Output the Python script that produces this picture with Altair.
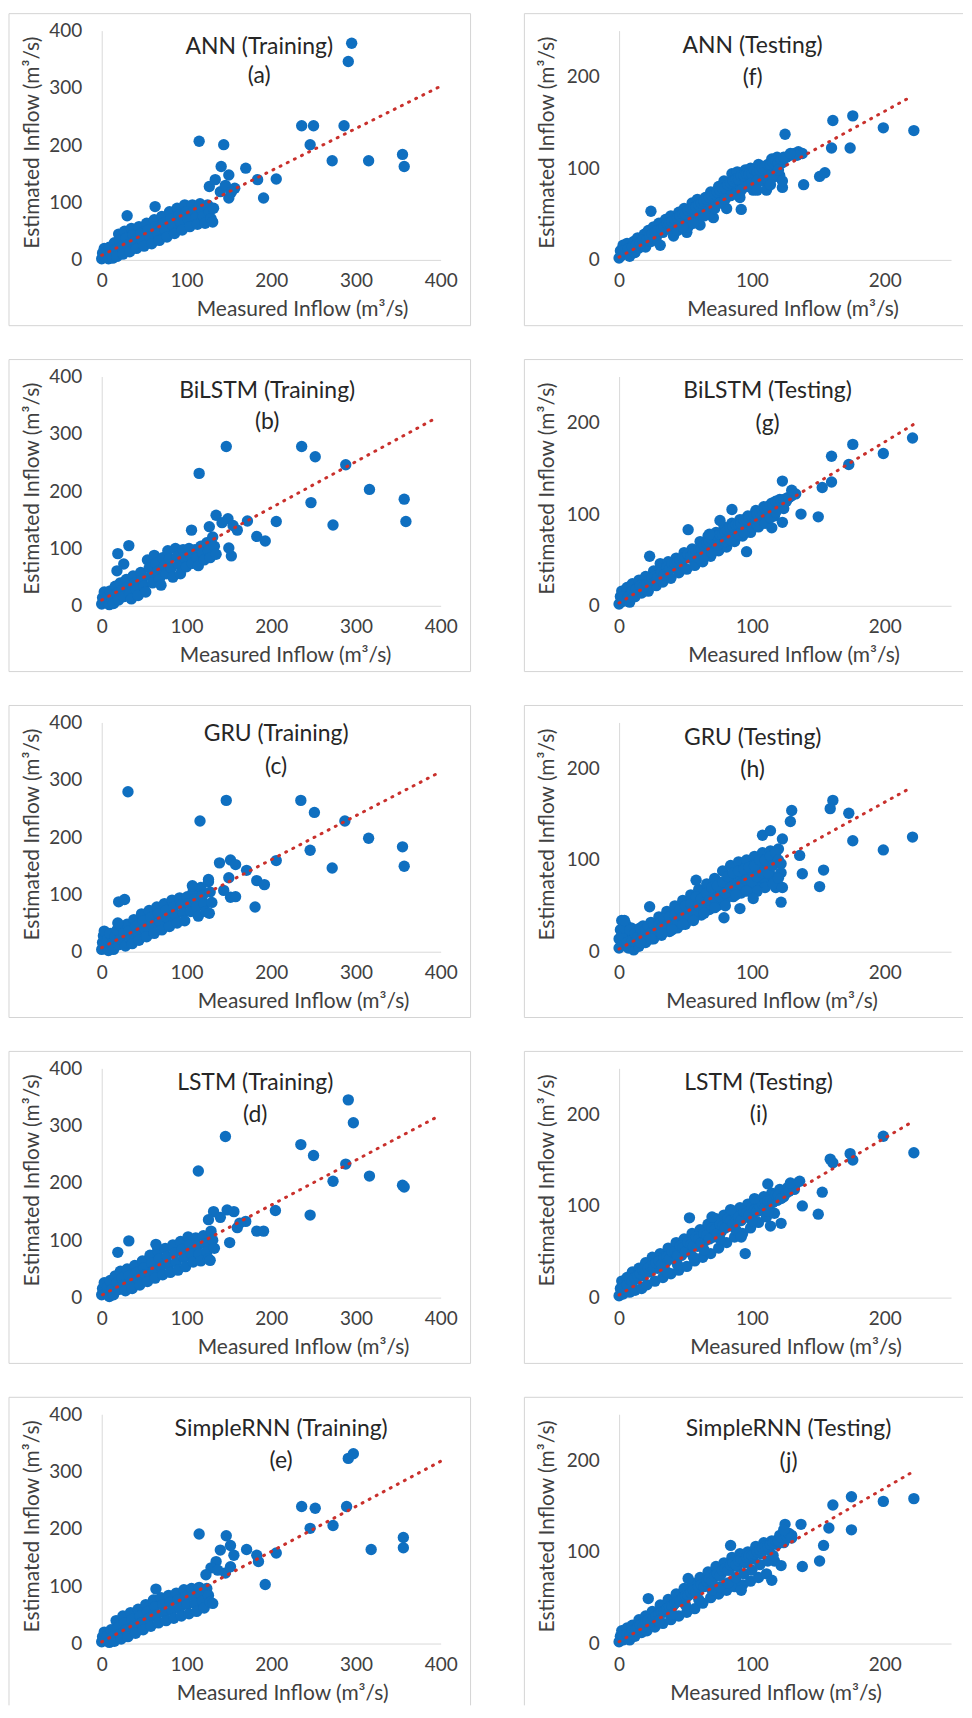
import altair as alt
import pandas as pd

# ---------------- data ----------------
ann_train = [
    [0,2],[1,12],[3,20],[4,6],[6,14],[8,2],[9,22],[11,10],[13,3],[15,30],[16,18],[18,6],[20,45],[21,34],[23,22],[25,10],
    [27,50],[29,38],[31,26],[33,14],[35,55],[37,44],[39,32],[41,20],[44,58],[46,46],[48,34],[50,24],[53,64],[55,52],[57,40],
    [59,28],[62,70],[64,58],[66,46],[68,34],[71,76],[73,64],[75,52],[77,40],[80,84],[82,72],[84,60],[86,46],[89,90],[91,78],
    [93,66],[95,52],[98,96],[100,84],[102,72],[104,58],[107,96],[109,86],[111,74],[113,62],[116,98],[118,88],[120,76],[122,64],
    [125,96],[127,84],[129,72],[131,66],[132,90],
    [295,378],[291,346],[236,234],[250,234],[286,234],[246,201],[272,173],[315,173],[355,184],[357,163],[115,207],[144,201],
    [141,163],[150,148],[170,160],[184,140],[206,141],[191,108],[150,108],[157,125],[127,128],[134,140],[140,119],[30,77],
    [63,93],[146,130],[153,118]]

bilstm_train = [
    [0,3],[1,14],[3,24],[5,6],[7,16],[9,2],[10,26],[12,12],[14,4],[16,34],[18,22],[20,10],[22,40],[24,28],[26,16],[29,46],
    [31,34],[33,22],[35,12],[37,52],[39,40],[41,28],[43,18],[46,58],[48,46],[50,34],[52,24],[54,80],[56,66],[58,52],[60,40],
    [62,88],[64,74],[66,60],[68,46],[70,36],[72,84],[74,70],[76,56],[78,96],[80,82],[82,66],[84,50],[87,100],[89,86],[91,72],
    [93,56],[96,98],[98,84],[100,68],[103,100],[105,88],[107,74],[110,98],[112,84],[114,70],[117,104],[119,92],[121,80],
    [124,110],[126,96],[128,84],[131,120],[133,104],[135,90],
    [147,278],[236,278],[252,260],[288,246],[115,231],[316,203],[357,186],[359,147],[247,180],[273,141],[206,147],[172,148],
    [183,121],[193,113],[153,87],[150,101],[135,158],[149,152],[160,132],[106,132],[127,138],[32,105],[19,91],[26,73],[18,61],
    [142,145],[155,140]]

gru_train = [
    [0,4],[1,16],[2,28],[3,36],[5,10],[7,22],[8,2],[10,32],[12,14],[14,4],[16,26],[18,38],[20,12],[22,22],[24,44],[26,32],
    [28,10],[30,48],[32,36],[34,22],[36,14],[38,56],[40,44],[42,30],[44,20],[47,66],[49,54],[51,40],[53,26],[56,72],[58,60],
    [60,46],[62,32],[65,78],[67,66],[69,52],[71,38],[74,84],[76,72],[78,58],[80,44],[83,90],[85,78],[87,64],[89,50],[92,94],
    [94,82],[96,68],[98,54],[101,96],[103,84],[105,70],[108,106],[110,92],[112,78],[114,62],[117,112],[119,98],[121,84],
    [123,70],[126,122],[128,104],[130,86],
    [31,279],[147,264],[235,264],[251,243],[287,228],[116,228],[315,198],[355,183],[357,149],[246,177],[272,146],[206,159],
    [171,142],[183,124],[192,117],[181,78],[150,129],[152,95],[158,96],[139,155],[152,160],[158,152],[126,126],[107,115],
    [20,87],[27,91],[19,50],[144,107],[127,67]]

lstm_train = [
    [0,5],[1,16],[3,26],[5,8],[7,18],[9,2],[10,30],[12,14],[14,5],[16,38],[18,26],[20,14],[22,46],[24,34],[26,22],[28,12],
    [30,50],[32,38],[34,26],[36,16],[39,56],[41,44],[43,32],[45,22],[48,64],[50,52],[52,40],[54,28],[57,74],[59,60],[61,46],
    [63,34],[66,82],[68,68],[70,54],[72,40],[75,86],[77,72],[79,58],[81,44],[84,92],[86,78],[88,62],[90,48],[93,98],[95,84],
    [97,70],[99,54],[102,106],[104,92],[106,76],[108,62],[111,104],[113,90],[115,76],[117,64],[120,108],[122,94],[124,80],
    [126,68],[129,116],[131,100],[133,86],
    [291,345],[297,305],[146,281],[235,267],[250,248],[114,221],[288,233],[273,203],[316,212],[355,196],[357,193],[246,144],
    [205,152],[170,133],[183,116],[191,116],[160,122],[151,96],[132,150],[148,153],[156,150],[126,136],[32,99],[19,79],
    [64,93],[128,65],[140,140],[163,130]]

simplernn_train = [
    [0,3],[1,12],[3,20],[5,6],[7,14],[9,2],[11,24],[13,12],[15,4],[17,40],[19,28],[21,16],[23,8],[25,48],[27,36],[29,24],
    [31,12],[34,54],[36,42],[38,30],[40,18],[43,60],[45,48],[47,36],[49,24],[52,68],[54,56],[56,44],[58,30],[61,76],[63,64],
    [65,50],[67,36],[70,80],[72,68],[74,54],[76,40],[79,84],[81,72],[83,58],[85,44],[88,88],[90,76],[92,62],[94,48],[97,94],
    [99,82],[101,68],[103,52],[106,96],[108,84],[110,70],[112,56],[115,98],[117,86],[119,74],[121,62],[124,96],[126,84],
    [128,72],
    [291,323],[297,331],[236,239],[252,236],[289,239],[246,201],[273,206],[318,164],[356,185],[356,167],[206,158],[171,164],
    [183,154],[185,143],[193,103],[115,191],[147,188],[140,163],[152,171],[156,154],[135,143],[129,132],[146,123],[152,134],
    [131,70],[64,95],[123,120],[137,128]]

ann_test = [
    [0,2],[1,10],[2,5],[3,16],[5,8],[6,18],[8,4],[9,14],[11,20],[12,8],[14,24],[15,13],[17,20],[19,28],[20,14],[22,32],
    [24,20],[26,36],[28,24],[30,40],[31,16],[33,30],[35,44],[37,34],[39,48],[41,26],[43,40],[45,52],[47,42],[49,56],[51,30],
    [53,46],[55,62],[57,50],[59,66],[61,38],[63,56],[65,68],[67,58],[69,74],[71,46],[73,64],[75,80],[77,68],[79,86],[81,56],
    [83,74],[85,94],[87,82],[89,96],[91,68],[93,84],[95,98],[97,88],[99,100],[101,76],[103,90],[105,104],[107,94],[109,100],
    [111,76],[113,96],[115,110],[117,102],[119,112],[121,92],[123,106],[126,112],[129,114],[132,116],[135,118],[138,116],
    [3,10],[7,12],[10,14],[13,16],[16,18],[18,22],[21,22],[23,26],[25,28],[27,30],[29,32],[32,34],[34,36],[36,40],[38,40],
    [40,42],[42,44],[44,46],[46,48],[48,50],[50,50],[52,54],[54,56],[56,56],[58,58],[60,60],[62,62],[64,64],[66,66],[68,68],
    [70,70],[72,72],[74,74],[76,76],[78,78],[80,78],[82,82],[84,84],[86,86],[88,88],[90,88],[92,92],[94,92],[96,94],[98,94],
    [100,94],[102,98],[104,96],[106,98],[108,100],[110,102],[112,104],[114,104],[116,106],[118,108],[120,106],[122,110],
    [124,112],[96,80],[100,84],[104,86],[108,86],[112,86],[116,90],[120,98],[104,76],[114,82],[84,70],[88,72],[92,76],
    [76,62],[80,66],[68,50],[72,56],[60,44],[64,48],[52,36],[56,40],[44,32],[48,36],
    [176,157],[161,152],[199,144],[222,141],[125,137],[160,122],[174,122],[151,91],[155,95],[139,82],[123,79],[123,86],
    [92,55],[24,53],[134,114],[129,116]]

bilstm_test = [
    [0,2],[1,10],[2,16],[3,5],[5,12],[6,20],[8,4],[9,16],[10,24],[12,10],[14,20],[15,28],[17,14],[19,24],[20,32],[22,16],
    [24,28],[26,38],[28,22],[30,34],[31,46],[33,26],[35,38],[37,48],[39,30],[41,42],[43,52],[45,36],[47,46],[49,58],[51,40],
    [53,52],[55,62],[57,44],[59,56],[61,70],[63,48],[65,62],[67,76],[69,54],[71,68],[73,80],[75,60],[77,72],[79,86],[81,64],
    [83,78],[85,90],[87,70],[89,84],[91,94],[93,76],[95,88],[97,98],[99,80],[101,92],[103,104],[105,86],[107,98],[109,108],
    [111,92],[113,104],[115,112],[117,98],[119,110],[121,116],[124,106],[127,118],[130,120],[133,122],
    [3,10],[7,10],[10,16],[13,18],[16,22],[18,20],[21,24],[23,28],[25,30],[27,32],[29,30],[32,36],[34,34],[36,42],[38,40],
    [40,46],[42,46],[44,48],[46,50],[48,52],[50,52],[52,56],[54,54],[56,58],[58,60],[60,62],[62,62],[64,66],[66,68],[68,70],
    [70,72],[72,74],[74,76],[76,78],[78,78],[80,80],[82,82],[84,84],[86,86],[88,88],[90,88],[92,90],[94,94],[96,94],[98,96],
    [100,98],[102,98],[104,100],[106,102],[108,104],[110,106],[112,108],[114,110],[116,110],[118,114],[120,114],[122,114],
    [124,116],[126,114],[128,118],[60,52],[64,54],[70,58],[74,66],[80,70],[84,72],[90,78],[94,80],[100,86],[104,88],
    [110,90],[114,96],[118,102],
    [221,183],[176,176],[199,166],[160,163],[173,154],[153,129],[160,135],[123,136],[137,100],[150,97],[85,105],[52,83],
    [23,54],[96,59],[130,126],[123,91],[115,85],[76,93],[68,78]]

gru_test = [
    [0,4],[0,14],[1,24],[2,34],[3,8],[4,20],[5,30],[7,4],[8,16],[9,26],[11,2],[12,12],[13,24],[15,6],[16,18],[18,28],
    [20,10],[22,22],[24,32],[26,14],[28,26],[30,38],[32,18],[34,30],[36,44],[38,22],[40,36],[42,50],[44,26],[46,40],[48,56],
    [50,30],[52,46],[54,62],[56,36],[58,52],[60,68],[62,40],[64,58],[66,74],[68,46],[70,62],[72,80],[74,50],[76,68],[78,88],
    [80,56],[82,74],[84,94],[86,60],[88,80],[90,98],[92,64],[94,84],[96,100],[98,68],[100,88],[102,104],[104,72],[106,92],
    [108,108],[110,78],[112,96],[114,110],[116,82],[118,100],[120,112],[122,86],[118,70],
    [2,18],[4,26],[6,10],[8,24],[10,12],[12,20],[14,16],[16,26],[18,16],[20,24],[22,28],[24,20],[26,30],[28,20],[30,30],
    [32,26],[34,36],[36,28],[38,38],[40,28],[42,40],[44,34],[46,46],[48,38],[50,50],[52,36],[54,52],[56,44],[58,60],[60,50],
    [62,58],[64,48],[66,64],[68,56],[70,70],[72,58],[74,72],[76,60],[78,76],[80,64],[82,82],[84,70],[86,86],[88,70],[90,88],
    [92,74],[94,90],[96,78],[98,92],[100,76],[102,94],[104,82],[106,100],[108,86],[110,100],[112,86],[114,104],[116,94],
    [118,108],[120,100],[122,96],[110,70],[116,74],[120,80],[104,66],[96,66],[88,62],[80,50],[72,48],[64,42],[56,34],
    [48,30],[40,24],[32,20],[24,14],[16,10],
    [161,165],[159,156],[130,154],[129,142],[173,151],[176,121],[199,111],[221,125],[136,105],[138,85],[154,89],[151,71],
    [122,54],[123,70],[91,47],[79,37],[101,58],[58,78],[23,49],[108,127],[114,132],[123,123],[4,34]]

lstm_test = [
    [0,2],[1,10],[2,18],[3,4],[5,12],[6,22],[8,6],[9,16],[10,28],[12,8],[13,20],[15,32],[17,10],[18,24],[20,38],[21,14],
    [23,28],[25,44],[27,18],[29,32],[31,48],[33,22],[35,38],[37,54],[39,26],[41,42],[43,60],[45,30],[47,46],[49,64],[51,34],
    [53,52],[55,70],[57,40],[59,56],[61,74],[63,44],[65,62],[67,80],[69,48],[71,66],[73,86],[75,54],[77,72],[79,90],[81,60],
    [83,78],[85,94],[87,66],[89,84],[91,98],[93,70],[95,88],[97,102],[99,76],[101,92],[103,106],[105,82],[107,96],[109,110],
    [111,88],[113,100],[115,114],[117,92],[119,106],[121,118],[124,110],[127,120],[130,122],[133,124],
    [3,10],[6,14],[8,20],[10,18],[12,22],[14,24],[16,26],[18,30],[20,28],[22,32],[24,34],[26,32],[28,38],[30,40],[32,36],
    [34,44],[36,44],[38,42],[40,50],[42,50],[44,46],[46,56],[48,54],[50,50],[52,60],[54,58],[56,56],[58,66],[60,64],[62,60],
    [64,70],[66,68],[68,64],[70,76],[72,74],[74,70],[76,80],[78,78],[80,76],[82,86],[84,84],[86,80],[88,90],[90,88],[92,84],
    [94,94],[96,92],[98,90],[100,98],[102,96],[104,94],[106,100],[108,102],[110,98],[112,106],[114,106],[116,104],[118,112],
    [120,112],[122,108],[126,114],[128,116],[132,118],[64,52],[76,64],[88,74],[100,84],[112,94],[56,44],[44,36],[36,28],
    [199,176],[222,158],[159,151],[161,147],[174,157],[176,150],[153,115],[150,91],[138,100],[112,124],[129,125],[136,127],
    [84,96],[53,87],[95,48],[122,81],[114,78],[92,66],[102,108],[70,88]]

simplernn_test = [
    [0,2],[1,8],[2,14],[3,4],[5,10],[6,17],[8,4],[9,13],[10,20],[12,8],[13,17],[15,26],[17,12],[18,22],[20,30],[21,14],
    [23,26],[25,35],[27,18],[29,30],[31,42],[33,22],[35,36],[37,48],[39,26],[41,42],[43,54],[45,30],[47,48],[49,60],[51,34],
    [53,54],[55,66],[57,38],[59,60],[61,72],[63,44],[65,66],[67,78],[69,50],[71,72],[73,84],[75,54],[77,76],[79,88],[81,58],
    [83,80],[85,94],[87,62],[89,84],[91,98],[93,64],[95,88],[97,100],[99,68],[101,92],[103,106],[105,72],[107,98],[109,110],
    [111,76],[113,102],[115,112],[117,90],[119,108],[121,118],[124,110],[127,120],[130,118],
    [3,8],[6,10],[8,10],[10,14],[12,14],[14,18],[16,20],[18,18],[20,24],[22,26],[24,24],[26,28],[28,30],[30,32],[32,34],
    [34,34],[36,38],[38,40],[40,40],[42,44],[44,46],[46,46],[48,50],[50,52],[52,52],[54,56],[56,58],[58,56],[60,62],[62,64],
    [64,62],[66,68],[68,70],[70,68],[72,74],[74,76],[76,74],[78,80],[80,82],[82,80],[84,86],[86,88],[88,86],[90,90],[92,92],
    [94,90],[96,94],[98,96],[100,96],[102,98],[104,100],[106,102],[108,104],[110,106],[112,106],[114,108],[116,110],[118,112],
    [120,112],[122,116],[126,118],[128,120],[70,58],[76,62],[82,66],[88,72],[94,76],[100,80],[106,86],[112,90],[116,96],
    [60,48],[50,42],[40,32],[30,24],
    [175,160],[161,151],[199,155],[222,158],[137,130],[125,130],[124,124],[158,126],[175,124],[154,107],[151,90],[138,84],
    [122,85],[115,69],[84,107],[92,58],[52,71],[22,49],[130,115]]

# trend line end points per panel
trend_a = [[0, 8], [400, 303]]
trend_b = [[0, 10], [395, 328]]
trend_c = [[0, 7], [400, 314]]
trend_d = [[1, 5], [398, 317]]
trend_e = [[0, 3], [400, 318]]
trend_f = [[0, 3], [220, 178]]
trend_g = [[0, 3], [222, 198]]
trend_h = [[0, 3], [220, 179]]
trend_i = [[0, 3], [220, 191]]
trend_j = [[0, 2], [221, 187]]

train_ticks = [0, 100, 200, 300, 400]
test_ticks = [0, 100, 200]
x_title = "Measured Inflow (m³/s)"
y_title = "Estimated Inflow (m³/s)"

# ---------------- styling ----------------
FONT = "Lato"
BLUE = "#0f6fc0"
RED = "#c9302c"
FRAME = "#d4d4d4"
H = 230
WL, WR = 340, 333


def frame_layers(left, right, top, bottom, draw_right=True, draw_bottom=True):
    base = alt.Chart(pd.DataFrame({"k": [0]})).mark_rule(color=FRAME, strokeWidth=1)
    layers = [
        base.encode(x=alt.value(left), x2=alt.value(right), y=alt.value(top)),
        base.encode(x=alt.value(left), y=alt.value(top), y2=alt.value(bottom)),
    ]
    if draw_right:
        layers.append(base.encode(x=alt.value(right), y=alt.value(top), y2=alt.value(bottom)))
    if draw_bottom:
        layers.append(base.encode(x=alt.value(left), x2=alt.value(right), y=alt.value(bottom)))
    return layers


def panel(pts, trend, title, letter, kind, tx, ty1, ty2, xtx, last=False):
    if kind == "train":
        dom, ticks, W, fl, fr, ytx = [0, 400], train_ticks, WL, -93, 370, -69
        draw_right = True
    else:
        dom, ticks, W, fl, fr, ytx = [0, 250], test_ticks, WR, -95, 345, -72
        draw_right = False
    bottom = H + 62 if last else H + 66
    df = pd.DataFrame(pts, columns=["x", "y"])
    tdf = pd.DataFrame(trend, columns=["x", "y"])
    xs = alt.Scale(domain=dom, nice=False, zero=False)
    ys = alt.Scale(domain=dom, nice=False, zero=False)
    xax = alt.Axis(values=ticks, title=x_title, titleX=xtx, titleY=50, titleBaseline="middle",
                   titleAlign="center", labelPadding=12, labelFlush=False, labelOverlap=False)
    yax = alt.Axis(values=ticks, title=y_title, titleX=ytx, titleY=112, titleAngle=-90,
                   titleBaseline="middle", titleAlign="center", labelPadding=20,
                   labelFlush=False, labelOverlap=False)
    enc = dict(x=alt.X("x:Q", scale=xs, axis=xax), y=alt.Y("y:Q", scale=ys, axis=yax))
    points = alt.Chart(df).mark_circle(size=130, color=BLUE, opacity=1).encode(**enc)
    line = alt.Chart(tdf).mark_line(color=RED, strokeWidth=3, strokeDash=[1, 7],
                                    strokeCap="round").encode(**enc)
    t1 = alt.Chart(pd.DataFrame({"t": [title]})).mark_text(
        font=FONT, fontSize=23, color="#262626", baseline="middle", align="center"
    ).encode(text="t:N", x=alt.value(tx), y=alt.value(ty1))
    t2 = alt.Chart(pd.DataFrame({"t": [letter]})).mark_text(
        font=FONT, fontSize=23, color="#262626", baseline="middle", align="center"
    ).encode(text="t:N", x=alt.value(tx), y=alt.value(ty2))
    layers = frame_layers(fl, fr, -17, bottom, draw_right, not last) + [points, line, t1, t2]
    return alt.layer(*layers).properties(width=W, height=H)


rows = [
    (panel(ann_train, trend_a, "ANN (Training)", "(a)", "train", 158, 16, 46, 201),
     panel(ann_test, trend_f, "ANN (Testing)", "(f)", "test", 134, 15, 48, 174)),
    (panel(bilstm_train, trend_b, "BiLSTM (Training)", "(b)", "train", 166, 15, 46, 184),
     panel(bilstm_test, trend_g, "BiLSTM (Testing)", "(g)", "test", 149, 15, 48, 175)),
    (panel(gru_train, trend_c, "GRU (Training)", "(c)", "train", 175, 12, 45, 202),
     panel(gru_test, trend_h, "GRU (Testing)", "(h)", "test", 134, 16, 48, 153)),
    (panel(lstm_train, trend_d, "LSTM (Training)", "(d)", "train", 154, 15, 47, 202),
     panel(lstm_test, trend_i, "LSTM (Testing)", "(i)", "test", 140, 15, 47, 177)),
    (panel(simplernn_train, trend_e, "SimpleRNN (Training)", "(e)", "train", 180, 15, 47, 181, last=True),
     panel(simplernn_test, trend_j, "SimpleRNN (Testing)", "(j)", "test", 170, 15, 48, 157, last=True)),
]

chart = alt.vconcat(
    *[alt.hconcat(l, r, spacing=52) for l, r in rows], spacing=32
).properties(
    padding={"left": 0, "top": 2, "right": 0, "bottom": 0}
).configure_view(stroke=None).configure_axis(
    grid=False, ticks=False, domainColor="#d9d9d9", domainWidth=1,
    labelFont=FONT, labelFontSize=19, labelColor="#404040",
    titleFont=FONT, titleFontSize=21, titleFontWeight="normal", titleColor="#404040",
)

chart.save("out.html", embed_options={"renderer": "svg", "actions": False})
